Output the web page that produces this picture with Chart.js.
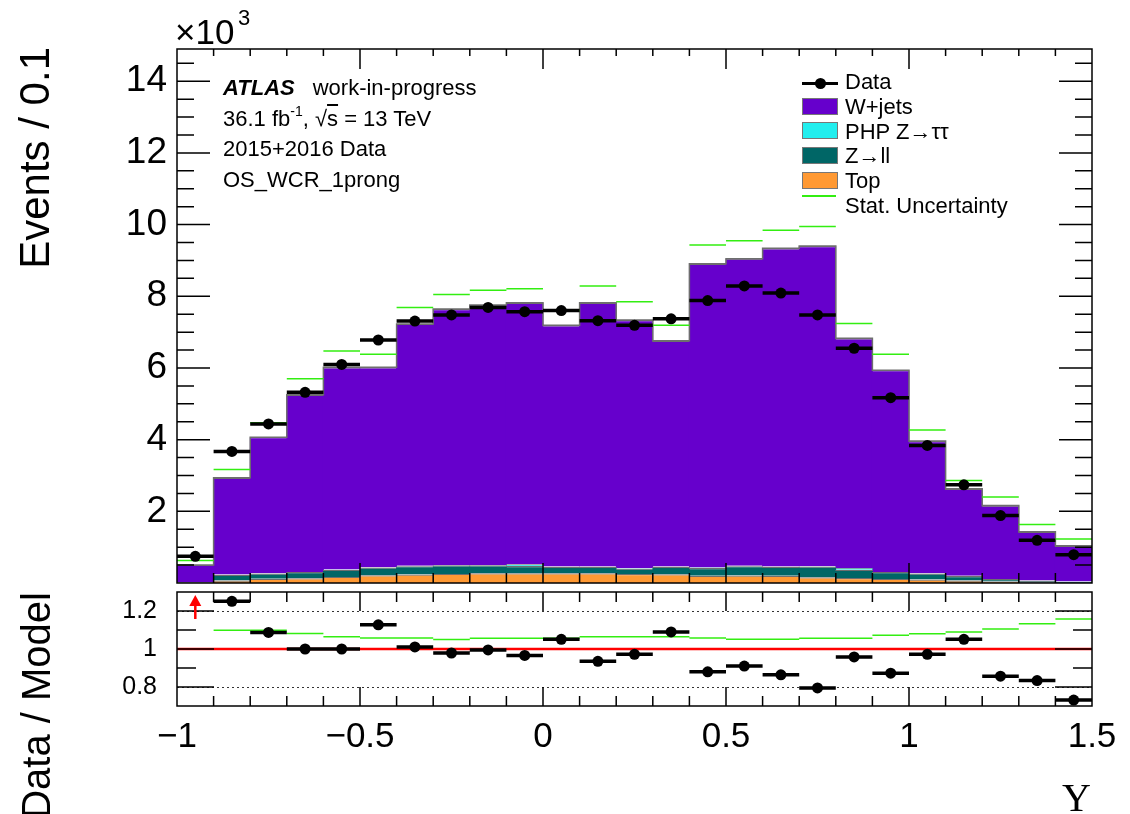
<!DOCTYPE html>
<html>
<head>
<meta charset="utf-8">
<title>Y distribution, OS_WCR_1prong</title>
<script src="https://cdn.jsdelivr.net/npm/chart.js@4.4.1/dist/chart.umd.min.js"></script>
<style>
  body { margin: 0; background: #fff; }
  #page { position: relative; width: 1130px; height: 814px; overflow: hidden; font-family: "Liberation Sans", Arial, sans-serif; color: #000; }
  #page canvas { position: absolute; left: 0; top: 0; }
  .txt { position: absolute; white-space: nowrap; line-height: 1; font-size: 22px; }
  .box { position: absolute; box-sizing: border-box; width: 36px; height: 17px; border: 1.5px solid #777; }
  .vtitle { position: absolute; width: 400px; text-align: right; font-size: 40px; line-height: 1; white-space: nowrap; transform-origin: 0 0; transform: rotate(-90deg); }
</style>
</head>
<body>
<div id="page">
  <canvas id="mainChart" width="1130" height="814"></canvas>
  <canvas id="ratioChart" width="1130" height="814"></canvas>

  <div class="vtitle" style="left:14px; top:447px; font-size:42px;">Events / 0.1</div>
  <div class="vtitle" style="left:16px; top:992px;">Data / Model</div>
  <div class="txt" style="left:1062px; top:778px; font-family:'Liberation Serif','Times New Roman',serif; font-size:40px;">Y</div>

  <div class="txt" style="left:175px; top:14px; font-size:35px;">&times;10</div>
  <div class="txt" style="left:238px; top:7px; font-size:22px;">3</div>

  <div class="txt" style="left:223px; top:77px;"><b><i>ATLAS</i></b><span style="margin-left:18px;">work-in-progress</span></div>
  <div class="txt" style="left:223px; top:108px;">36.1 fb<span style="font-size:14px; position:relative; top:-10px;">-1</span>, &radic;<span style="text-decoration:overline;">s</span> = 13 TeV</div>
  <div class="txt" style="left:223px; top:138px;">2015+2016 Data</div>
  <div class="txt" style="left:223px; top:169px;">OS_WCR_1prong</div>

  <div style="position:absolute; left:802px; top:82px; width:36px; height:3px; background:#000;"></div>
  <div style="position:absolute; left:815px; top:78px; width:11px; height:11px; border-radius:50%; background:#000;"></div>
  <div class="box" style="left:802px; top:98px; background:#6600cc;"></div>
  <div class="box" style="left:802px; top:122px; background:#22eeee;"></div>
  <div class="box" style="left:802px; top:147px; background:#006666;"></div>
  <div class="box" style="left:802px; top:172px; background:#ff9933;"></div>
  <div style="position:absolute; left:802px; top:195px; width:34px; height:2px; background:#33ee11;"></div>

  <div class="txt" style="left:845px; top:71px;">Data</div>
  <div class="txt" style="left:845px; top:96px;">W+jets</div>
  <div class="txt" style="left:845px; top:121px;">PHP Z&rarr;&tau;&tau;</div>
  <div class="txt" style="left:845px; top:145px;">Z&rarr;ll</div>
  <div class="txt" style="left:845px; top:170px;">Top</div>
  <div class="txt" style="left:845px; top:195px;">Stat. Uncertainty</div>
</div>

<script>
// bin edges of Y, 25 bins of 0.1
var binEdges = [-1.0, -0.9, -0.8, -0.7, -0.6, -0.5, -0.4, -0.3, -0.2, -0.1, 0.0,
  0.1, 0.2, 0.3, 0.4, 0.5, 0.6, 0.7, 0.8, 0.9, 1.0, 1.1, 1.2, 1.3, 1.4, 1.5];

// stacked MC, events per bin (bottom to top)
var topQuark = [5, 67, 120, 130, 170, 215, 235, 254, 270, 270, 270, 270, 250, 245, 200, 210, 200, 160, 140, 114, 95, 67, 40, 10, 3];
var zll = [20, 162, 145, 175, 200, 215, 235, 240, 225, 205, 180, 180, 150, 205, 220, 260, 250, 300, 230, 190, 170, 130, 72, 55, 35];
var zttPHP = [0, 5, 5, 5, 10, 10, 10, 10, 10, 45, 10, 10, 10, 10, 10, 10, 10, 10, 50, 5, 5, 3, 2, 2, 2];
var wjets = [480, 2700, 3800, 4940, 5640, 5580, 6750, 7140, 7250, 7300, 6730, 7360, 6930, 6300, 8480, 8570, 8880, 8930, 6410, 5630, 3690, 2430, 2050, 1360, 1000];

var dataEvents = [745, 3670, 4440, 5320, 6100, 6780, 7310, 7480, 7690, 7570, 7600, 7320, 7190, 7370, 7880, 8290, 8090, 7480, 6550, 5170, 3840, 2740, 1880, 1190, 790];
var statUpper = [625, 3170, 4470, 5700, 6470, 6380, 7690, 8050, 8170, 8210, 7600, 8290, 7850, 7190, 9430, 9550, 9840, 9950, 7240, 6380, 4270, 2860, 2400, 1630, 1230];

// lower pad
var ratioData = [1.47, 1.251, 1.087, 1.000, 1.000, 1.127, 1.011, 0.979, 0.995, 0.966, 1.051, 0.935, 0.972, 1.090, 0.880, 0.910, 0.864, 0.795, 0.958, 0.873, 0.972, 1.051, 0.857, 0.834, 0.731];
var ratioStat = [null, 1.099, 1.099, 1.081, 1.064, 1.058, 1.058, 1.050, 1.057, 1.057, 1.057, 1.065, 1.065, 1.065, 1.058, 1.051, 1.051, 1.057, 1.057, 1.073, 1.080, 1.089, 1.105, 1.133, 1.158];

// tick labels
var xTickValues = [-1, -0.5, 0, 0.5, 1, 1.5];
var xTickLabels = ['\u22121', '\u22120.5', '0', '0.5', '1', '1.5'];
var yTickValues = [2000, 4000, 6000, 8000, 10000, 12000, 14000];
var yTickLabels = ['2', '4', '6', '8', '10', '12', '14'];
var ratioTickValues = [0.8, 1.0, 1.2];
var ratioTickLabels = ['0.8', '1', '1.2'];

var yMax = 14900;
var ratioMin = 0.7, ratioMax = 1.3;

Chart.defaults.font.family = '"Liberation Sans", Arial, sans-serif';
Chart.defaults.color = '#000';

var centers = binEdges.slice(0, -1).map(function (e, i) { return (e + binEdges[i + 1]) / 2; });

function asPoints(values) {
  return values.map(function (v, i) { return { x: centers[i], y: v }; });
}
// one flat segment per bin, broken between bins
function asSegments(values) {
  var pts = [];
  values.forEach(function (v, i) {
    if (v === null) return;
    pts.push({ x: binEdges[i], y: v }, { x: binEdges[i + 1], y: v }, { x: binEdges[i + 1], y: null });
  });
  return pts;
}
function asOutline(values) {
  var pts = values.map(function (v, i) { return { x: binEdges[i], y: v }; });
  pts.push({ x: binEdges[binEdges.length - 1], y: values[values.length - 1] });
  return pts;
}
function labelFor(vals, labels, v) {
  for (var i = 0; i < vals.length; i++) {
    if (Math.abs(vals[i] - v) < 1e-6 * Math.max(1, Math.abs(vals[i]))) return labels[i];
  }
  return '';
}
function fixedTicks(vals) {
  return function (s) { s.ticks = vals.map(function (v) { return { value: v }; }); };
}

var mcTotal = wjets.map(function (v, i) { return v + zttPHP[i] + zll[i] + topQuark[i]; });
var ratioShown = ratioData.map(function (v) { return v > ratioMax ? null : v; });
var ratioArrows = centers.filter(function (c, i) { return ratioData[i] > ratioMax; });

function isMultiple(v, step) {
  var q = v / step;
  return Math.abs(q - Math.round(q)) < 1e-6;
}
function eachStep(min, max, step, fn) {
  var k0 = Math.ceil(min / step - 1e-9), k1 = Math.floor(max / step + 1e-9);
  for (var k = k0; k <= k1; k++) {
    var v = k * step;
    if (Math.abs(v - min) < step * 1e-3 || Math.abs(v - max) < step * 1e-3) continue;
    fn(v);
  }
}

// ROOT-like frame: inward ticks on all four sides, reference lines, off-scale arrows
var frameTicks = {
  id: 'frameTicks',
  beforeDatasetsDraw: function (chart, args, o) {
    var ctx = chart.ctx, a = chart.chartArea, ys = chart.scales.y;
    ctx.save();
    (o.dotted || []).forEach(function (v) {
      var py = Math.round(ys.getPixelForValue(v)) + 0.5;
      ctx.strokeStyle = '#333';
      ctx.lineWidth = 1;
      ctx.setLineDash([2, 3]);
      ctx.beginPath(); ctx.moveTo(a.left, py); ctx.lineTo(a.right, py); ctx.stroke();
    });
    ctx.setLineDash([]);
    if (o.unity) {
      var pu = ys.getPixelForValue(o.unity);
      ctx.strokeStyle = '#ff0000';
      ctx.lineWidth = 2.5;
      ctx.beginPath(); ctx.moveTo(a.left, pu); ctx.lineTo(a.right, pu); ctx.stroke();
    }
    ctx.restore();
  },
  afterDatasetsDraw: function (chart, args, o) {
    var ctx = chart.ctx, a = chart.chartArea, xs = chart.scales.x, ys = chart.scales.y;
    ctx.save();
    ctx.strokeStyle = '#000';
    ctx.lineWidth = 1.5;
    ctx.beginPath();
    eachStep(xs.min, xs.max, o.xStep, function (v) {
      var px = xs.getPixelForValue(v);
      var major = isMultiple(v, o.xMajor);
      ctx.moveTo(px, a.bottom); ctx.lineTo(px, a.bottom - (major ? o.xMajorLen : o.xMinorLen));
      ctx.moveTo(px, a.top); ctx.lineTo(px, a.top + (major ? o.xMajorLen : o.xTopMinorLen));
    });
    eachStep(ys.min, ys.max, o.yStep, function (v) {
      var py = ys.getPixelForValue(v);
      var len = isMultiple(v, o.yMajor) ? o.yMajorLen : o.yMinorLen;
      ctx.moveTo(a.left, py); ctx.lineTo(a.left + len, py);
      ctx.moveTo(a.right, py); ctx.lineTo(a.right - len, py);
    });
    ctx.stroke();
    ctx.strokeRect(a.left, a.top, a.right - a.left, a.bottom - a.top);
    (o.arrows || []).forEach(function (xv) {
      var px = xs.getPixelForValue(xv), tip = a.top + 3, tail = tip + 24;
      ctx.strokeStyle = '#ff0000';
      ctx.fillStyle = '#ff0000';
      ctx.lineWidth = 2.5;
      ctx.beginPath(); ctx.moveTo(px, tail); ctx.lineTo(px, tip + 8); ctx.stroke();
      ctx.beginPath(); ctx.moveTo(px, tip); ctx.lineTo(px - 6, tip + 11); ctx.lineTo(px + 6, tip + 11); ctx.closePath(); ctx.fill();
    });
    ctx.restore();
  }
};

// stacking follows the order value, so the lowest order sits at the bottom;
// bars are a touch wider than the bin so no seam shows between them
function histBar(label, values, color, ord) {
  return {
    type: 'bar', label: label, data: asPoints(values),
    backgroundColor: color, borderColor: '#6e6e6e',
    borderWidth: { top: 1.2, left: 0, right: 0, bottom: 0 }, borderSkipped: false,
    stack: 'mc', barPercentage: 1.03, categoryPercentage: 1, order: ord
  };
}

var mainChart = new Chart(document.getElementById('mainChart'), {
  type: 'bar',
  data: {
    datasets: [
      histBar('Top', topQuark, '#ff9933', 4),
      histBar('Z\u2192ll', zll, '#006666', 5),
      histBar('PHP Z\u2192\u03c4\u03c4', zttPHP, '#22eeee', 6),
      histBar('W+jets', wjets, '#6600cc', 7),
      { type: 'line', label: 'MC outline', data: asOutline(mcTotal), stepped: 'before',
        borderColor: '#6e6e6e', borderWidth: 1.5, pointRadius: 0, fill: false, stack: 'outline', order: 3 },
      { type: 'line', label: 'Stat. Uncertainty', data: asSegments(statUpper),
        borderColor: '#33ee11', borderWidth: 1.5, pointRadius: 0, fill: false, spanGaps: false, stack: 'stat', order: 2 },
      { type: 'line', label: 'Data bin', data: asSegments(dataEvents), borderCapStyle: 'butt',
        borderColor: '#000', borderWidth: 3.5, pointRadius: 0, fill: false, spanGaps: false, stack: 'dataBar', order: 1 },
      { type: 'line', label: 'Data', data: asPoints(dataEvents), showLine: false,
        pointRadius: 5.5, pointBackgroundColor: '#000', pointBorderWidth: 0, stack: 'dataPt', order: 0 }
    ]
  },
  options: {
    responsive: false,
    animation: false,
    layout: { padding: { left: 0, right: 38, top: 49, bottom: 231 } },
    plugins: {
      legend: { display: false },
      tooltip: { enabled: false },
      frameTicks: { xStep: 0.1, xMajor: 0.5, xMinorLen: 10, xTopMinorLen: 7, xMajorLen: 20,
                    yStep: 500, yMajor: 2000, yMinorLen: 17, yMajorLen: 33 }
    },
    scales: {
      x: { type: 'linear', display: false, stacked: true, offset: false, min: -1, max: 1.5,
           afterBuildTicks: fixedTicks(xTickValues), grid: { display: false, offset: false } },
      y: { type: 'linear', stacked: true, min: 0, max: yMax,
           afterBuildTicks: fixedTicks(yTickValues),
           afterFit: function (s) { s.width = 177; },
           border: { display: false },
           grid: { display: false, drawTicks: false },
           ticks: { autoSkip: false, padding: 10, font: { size: 37 },
                    callback: function (v) { return labelFor(yTickValues, yTickLabels, v); } } }
    }
  },
  plugins: [frameTicks]
});

var ratioChart = new Chart(document.getElementById('ratioChart'), {
  type: 'line',
  data: {
    datasets: [
      { label: 'Stat. Uncertainty', data: asSegments(ratioStat), borderColor: '#33ee11',
        borderWidth: 1.5, pointRadius: 0, fill: false, spanGaps: false, order: 2 },
      { label: 'Data bin', data: asSegments(ratioShown), borderColor: '#000', borderCapStyle: 'butt',
        borderWidth: 3.5, pointRadius: 0, fill: false, spanGaps: false, order: 1 },
      { label: 'Data / Model', data: asPoints(ratioShown), showLine: false,
        pointRadius: 5.5, pointBackgroundColor: '#000', pointBorderWidth: 0, order: 0 }
    ]
  },
  options: {
    responsive: false,
    animation: false,
    layout: { padding: { left: 0, right: 38, top: 592, bottom: 0 } },
    plugins: {
      legend: { display: false },
      tooltip: { enabled: false },
      frameTicks: { xStep: 0.1, xMajor: 0.5, xMinorLen: 10, xTopMinorLen: 10, xMajorLen: 19,
                    yStep: 0.1, yMajor: 0.2, yMinorLen: 19, yMajorLen: 37,
                    dotted: [0.8, 1.2], unity: 1, arrows: ratioArrows }
    },
    scales: {
      x: { type: 'linear', min: -1, max: 1.5, offset: false,
           afterBuildTicks: fixedTicks(xTickValues),
           afterFit: function (s) { s.height = 108; },
           border: { display: false },
           grid: { display: false, drawTicks: false },
           ticks: { autoSkip: false, maxRotation: 0, padding: 10, font: { size: 35 },
                    callback: function (v) { return labelFor(xTickValues, xTickLabels, v); } } },
      y: { type: 'linear', min: ratioMin, max: ratioMax,
           afterBuildTicks: fixedTicks(ratioTickValues),
           afterFit: function (s) { s.width = 177; },
           border: { display: false },
           grid: { display: false, drawTicks: false },
           ticks: { autoSkip: false, padding: 20, font: { size: 25 },
                    callback: function (v) { return labelFor(ratioTickValues, ratioTickLabels, v); } } }
    }
  },
  plugins: [frameTicks]
});
</script>
</body>
</html>
